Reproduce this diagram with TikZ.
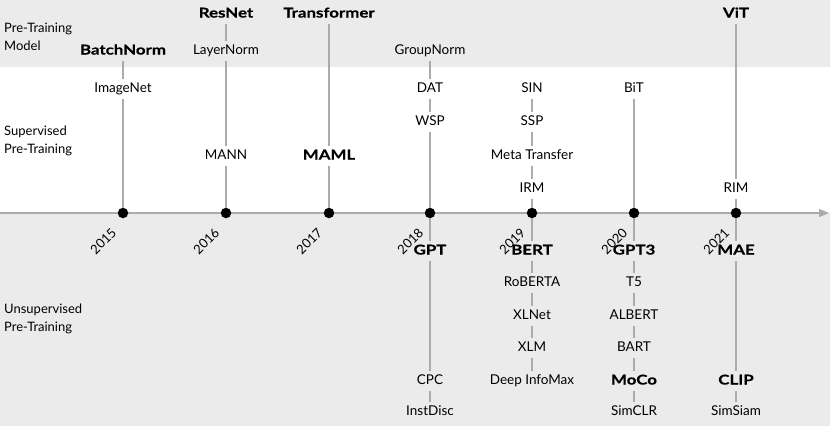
\documentclass[tikz,border=0pt]{standalone}
\usepackage{fontspec}
\setmainfont{Lato}[BoldFeatures={FakeStretch=1.25,FakeBold=0.6}]
\usetikzlibrary{arrows.meta}
\definecolor{band}{HTML}{EBEBEB}
\definecolor{stem}{HTML}{ABABAB}
\tikzset{
  every node/.style={font=\fontsize{13.5}{16}\selectfont, inner sep=3pt,
    text height=10pt, text depth=3pt},
  key/.style={font=\fontsize{13.5}{16}\selectfont\bfseries},
  yeardot/.style={circle, fill=black, inner sep=0pt, minimum size=10.5pt,
    text height=, text depth=},
  yearlabel/.style={rotate=45, anchor=east, font=\fontsize{13}{14}\selectfont},
  rowlabel/.style={anchor=west, align=left, font=\fontsize{13}{18}\selectfont,
    text height=, text depth=},
}
\begin{document}
\begin{tikzpicture}[x=1pt,y=-1pt]
  \fill[band] (0,0) rectangle (830,67);
  \fill[band] (0,213) rectangle (830,426);
  \useasboundingbox (0,0) rectangle (830,426);
  \coordinate (start) at (0,213);
  \coordinate (end) at (829,213);
  \draw[stem, line width=1.6pt, -{Triangle[length=10pt,width=8pt]}] (start) -- (end);
  % years
  \path
    (123,213) node[yeardot] (15){}
    (226,213) node[yeardot] (16){}
    (329,213) node[yeardot] (17){}
    (430,213) node[yeardot] (18){}
    (532,213) node[yeardot] (19){}
    (634,213) node[yeardot] (20){}
    (736,213) node[yeardot] (21){};
  \node[yearlabel] (y15) at ([shift={(-6,16)}]15) {2015};
  \node[yearlabel] (y16) at ([shift={(-6,16)}]16) {2016};
  \node[yearlabel] (y17) at ([shift={(-6,16)}]17) {2017};
  \node[yearlabel] (y18) at ([shift={(-6,16)}]18) {2018};
  \node[yearlabel] (y19) at ([shift={(-6,16)}]19) {2019};
  \node[yearlabel] (y20) at ([shift={(-6,16)}]20) {2020};
  \node[yearlabel] (y21) at ([shift={(-6,16)}]21) {2021};
  % row labels
  \node[rowlabel] (model) at (1,37) {Pre-Training\\Model};
  \node[rowlabel] (sup) at (1,141) {Supervised\\Pre-Training};
  \node[rowlabel] (unsup) at (1,319) {Unsupervised\\Pre-Training};
  % above the axis
  \path
    (123,51) node[key] (bn){BatchNorm}
    (123,89) node (imgnet){ImageNet}
    (226,14) node[key] (resnet){ResNet}
    (226,51) node (ln){LayerNorm}
    (226,156) node (mann){MANN}
    (329,14) node[key] (trans){Transformer}
    (329,156) node[key] (maml){MAML}
    (430,51) node (gn){GroupNorm}
    (430,89) node (dat){DAT}
    (430,122) node (wsp){WSP}
    (532,89) node (sin){SIN}
    (532,122) node (ssp){SSP}
    (532,156) node (meta){Meta Transfer}
    (532,189) node (irm){IRM}
    (634,89) node (bit){BiT}
    (736,14) node[key] (vit){ViT}
    (736,189) node (rim){RIM};
  % below the axis
  \path
    (430,251) node[key] (gpt){GPT}
    (430,381) node (cpc){CPC}
    (430,412) node (instdisc){InstDisc}
    (532,251) node[key] (bert){BERT}
    (532,283) node (roberta){RoBERTA}
    (532,316) node (xlnet){XLNet}
    (532,348) node (xlm){XLM}
    (532,381) node (dim){Deep InfoMax}
    (634,251) node[key] (gpt3){GPT3}
    (634,283) node (t5){T5}
    (634,316) node (albert){ALBERT}
    (634,348) node (bart){BART}
    (634,381) node[key] (moco){MoCo}
    (634,412) node (simclr){SimCLR}
    (736,251) node[key] (mae){MAE}
    (736,381) node[key] (clip){CLIP}
    (736,412) node (simsiam){SimSiam};
  \begin{scope}[stem, line width=1.6pt]
    \draw (bn) to (imgnet);
    \draw (imgnet) to (15);
    \draw (resnet) to (ln);
    \draw (ln) to (mann);
    \draw (mann) to (16);
    \draw (trans) to (maml);
    \draw (maml) to (17);
    \draw (gn) to (dat);
    \draw (dat) to (wsp);
    \draw (wsp) to (18);
    \draw (18) to (gpt);
    \draw (gpt) to (cpc);
    \draw (cpc) to (instdisc);
    \draw (sin) to (ssp);
    \draw (ssp) to (meta);
    \draw (meta) to (irm);
    \draw (irm) to (19);
    \draw (19) to (bert);
    \draw (bert) to (roberta);
    \draw (roberta) to (xlnet);
    \draw (xlnet) to (xlm);
    \draw (xlm) to (dim);
    \draw (bit) to (20);
    \draw (20) to (gpt3);
    \draw (gpt3) to (t5);
    \draw (t5) to (albert);
    \draw (albert) to (bart);
    \draw (bart) to (moco);
    \draw (moco) to (simclr);
    \draw (vit) to (rim);
    \draw (rim) to (21);
    \draw (21) to (mae);
    \draw (mae) to (clip);
    \draw (clip) to (simsiam);
  \end{scope}
\end{tikzpicture}
\end{document}
